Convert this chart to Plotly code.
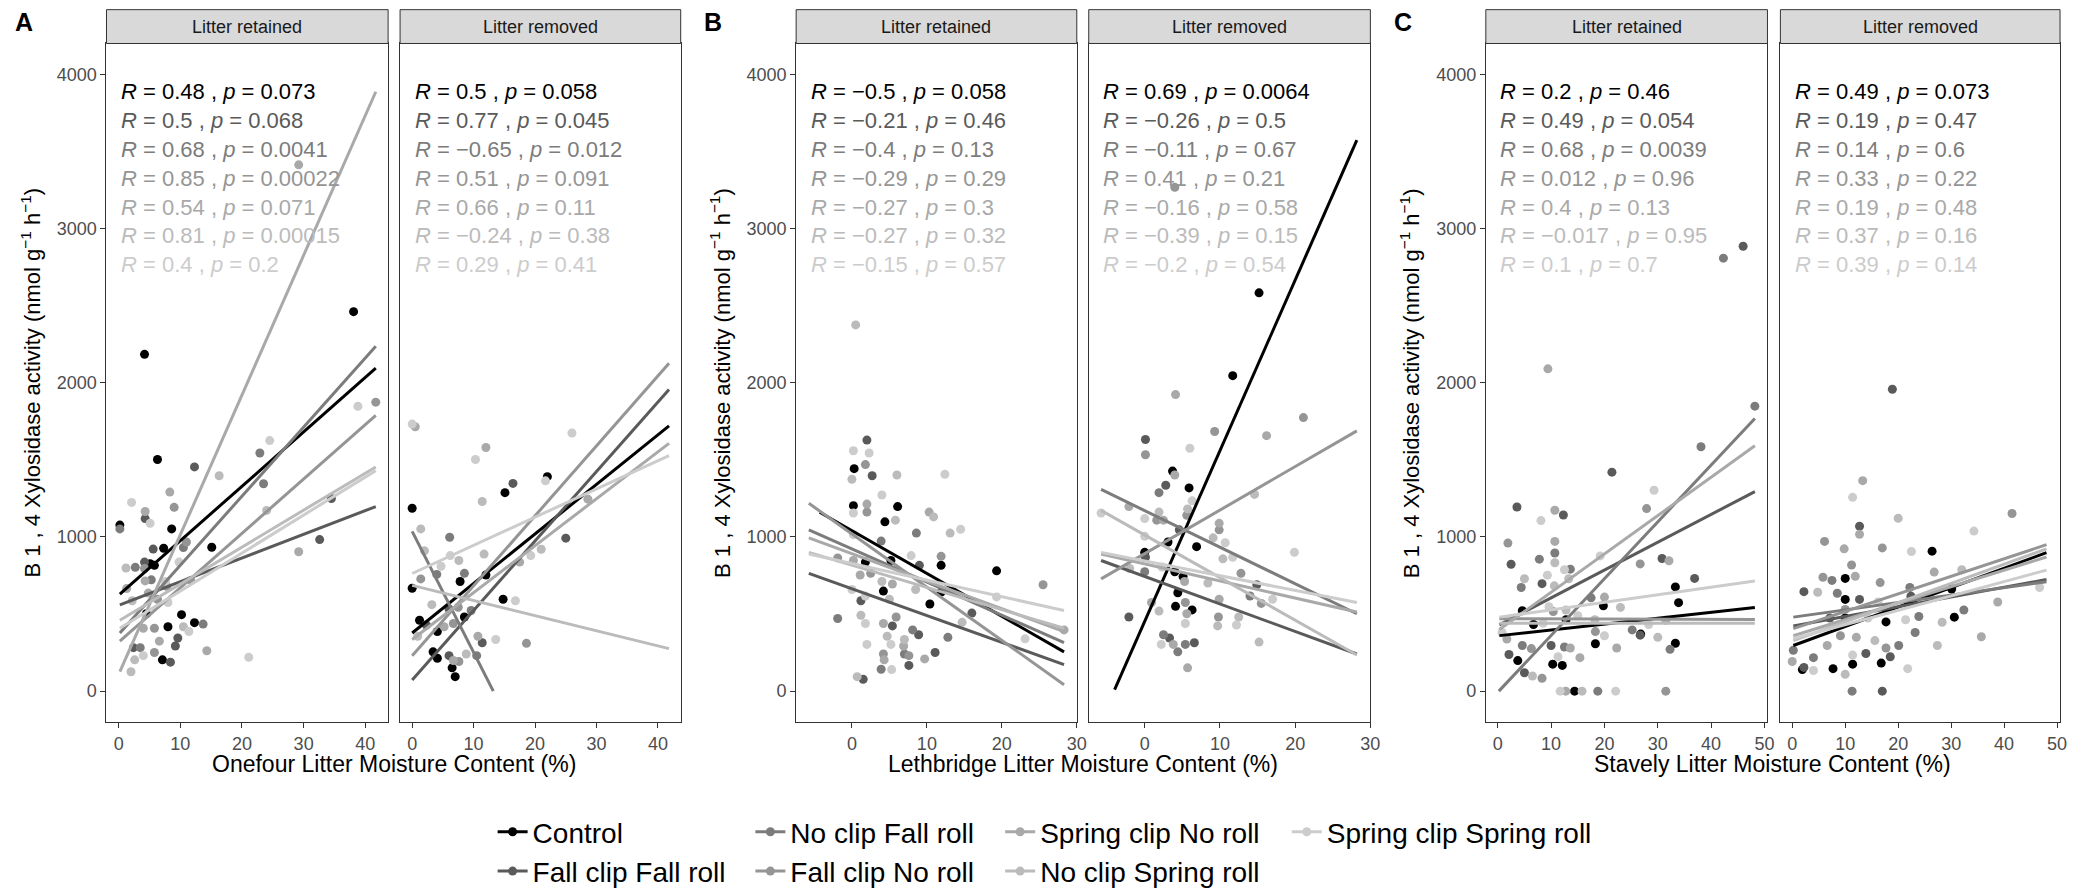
import plotly.graph_objects as go

W, H = 2078, 896
FONT = "Liberation Sans, Arial, Helvetica, sans-serif"

GROUPS = ["Control", "Fall clip Fall roll", "No clip Fall roll", "Fall clip No roll",
          "Spring clip No roll", "No clip Spring roll", "Spring clip Spring roll"]
GREYS = ["#000000", "#5A5A5A", "#7C7C7C", "#959595", "#A9A9A9", "#BBBBBB", "#CCCCCC"]

SITE_TITLES = ["Onefour Litter Moisture Content (%)",
               "Lethbridge Litter Moisture Content (%)",
               "Stavely Litter Moisture Content (%)"]
SITE_LETTERS = ["A", "B", "C"]
STRIPS = ["Litter retained", "Litter removed"]
SITE_XTICKS = [[0, 10, 20, 30, 40], [0, 10, 20, 30], [0, 10, 20, 30, 40, 50]]
Y_TICKS = [0, 1000, 2000, 3000, 4000]

# points: (treatment index, litter moisture %, xylosidase activity)
A_RET_PTS = [
    (0, 4.2, 2184), (0, 38.1, 2461), (4, 29.2, 3413), (3, 41.7, 1874), (6, 38.8, 1847),
    (0, 6.3, 1502), (2, 22.9, 1544), (6, 24.5, 1625), (1, 12.3, 1454), (5, 16.3, 1397),
    (2, 23.5, 1345), (4, 8.3, 1291), (6, 2.1, 1224), (1, 34.5, 1249), (3, 9.0, 1192),
    (4, 4.3, 1165), (1, 4.3, 1119), (5, 24.0, 1172), (0, 0.2, 1077), (2, 0.2, 1052),
    (6, 5.1, 1088), (0, 8.6, 1052), (1, 32.6, 983), (4, 29.2, 904), (1, 5.6, 921),
    (0, 7.3, 927), (0, 15.1, 933), (2, 10.5, 931), (3, 11.0, 967), (6, 9.8, 837),
    (5, 1.2, 799), (2, 2.7, 803), (1, 4.2, 837), (0, 5.1, 826), (0, 5.8, 816),
    (3, 4.2, 795), (2, 5.3, 722), (4, 4.3, 715), (6, 7.6, 711), (3, 11.7, 718),
    (4, 1.3, 665), (3, 7.8, 680), (5, 2.2, 586), (4, 4.8, 636), (3, 6.3, 596),
    (6, 8.0, 575), (0, 4.5, 502), (0, 10.2, 496), (0, 12.3, 444), (2, 13.7, 435),
    (0, 8.0, 418), (4, 4.0, 408), (3, 5.8, 408), (5, 10.5, 418), (6, 11.4, 387),
    (1, 9.6, 345), (1, 9.2, 293), (4, 6.6, 324), (1, 2.4, 282), (2, 3.5, 282),
    (6, 4.0, 230), (5, 2.6, 203), (3, 5.8, 251), (0, 7.1, 203), (1, 8.4, 188),
    (4, 14.3, 262), (6, 21.1, 220), (5, 2.0, 126),
]
A_REM_PTS = [
    (6, 0.0, 1732), (4, 0.5, 1715), (6, 10.3, 1502), (4, 12.0, 1580), (0, 22.0, 1391),
    (6, 21.7, 1364), (1, 16.4, 1347), (0, 15.1, 1287), (5, 11.4, 1230), (6, 26.0, 1674),
    (4, 28.6, 1245), (0, 0.0, 1186), (5, 1.4, 1052), (2, 6.1, 998), (1, 25.0, 992),
    (5, 2.0, 910), (6, 6.2, 879), (5, 11.7, 889), (6, 4.7, 810), (5, 7.6, 847),
    (3, 1.4, 728), (2, 4.0, 757), (2, 8.5, 764), (0, 7.8, 711), (0, 12.0, 753),
    (5, 21.0, 920), (6, 19.3, 879), (4, 17.5, 837), (0, 0.0, 667), (0, 14.8, 596),
    (6, 16.8, 586), (5, 3.2, 561), (1, 6.0, 533), (3, 7.5, 544), (2, 9.6, 523),
    (0, 8.5, 481), (0, 1.2, 460), (1, 2.3, 429), (0, 4.1, 387), (4, 5.2, 418),
    (3, 6.7, 439), (4, 10.7, 356), (1, 11.4, 314), (6, 13.6, 335), (3, 18.6, 310),
    (0, 3.4, 255), (0, 4.1, 213), (1, 6.0, 230), (4, 6.7, 199), (3, 7.6, 192),
    (0, 6.5, 151), (0, 7.0, 94), (5, 8.8, 241), (2, 10.5, 230), (5, 0.9, 356),
]
B_RET_PTS = [
    (5, 0.5, 2375), (1, 2.0, 1628), (6, 0.2, 1559), (6, 2.3, 1544), (3, 1.8, 1469),
    (0, 0.3, 1443), (1, 2.7, 1397), (5, 6.0, 1402), (6, 12.4, 1406), (5, 0.0, 1374),
    (6, 4.0, 1272), (0, 0.2, 1203), (0, 6.1, 1197), (4, 2.0, 1213), (3, 2.0, 1161),
    (6, 0.2, 1155), (4, 10.3, 1161), (5, 10.9, 1130), (5, 5.8, 1109), (0, 4.4, 1098),
    (6, 14.5, 1050), (5, 13.1, 1025), (2, 8.6, 1025), (6, 0.2, 1015), (2, 3.9, 973),
    (3, -1.9, 864), (4, 0.2, 847), (0, 1.8, 837), (0, 5.2, 847), (6, 7.9, 879),
    (1, 9.0, 816), (0, 11.9, 816), (3, 11.9, 874), (0, 19.3, 780), (4, 1.1, 753),
    (3, 2.5, 764), (5, 4.0, 711), (4, 5.4, 695), (3, 25.5, 690), (6, 0.0, 659),
    (1, 1.2, 586), (6, 1.8, 617), (0, 4.2, 649), (5, 5.0, 596), (5, 8.5, 659),
    (0, 11.9, 642), (0, 10.4, 565), (6, 19.3, 611), (1, 16.0, 506), (2, -1.9, 471),
    (5, 1.2, 492), (6, 1.8, 439), (4, 4.2, 439), (1, 5.4, 423), (3, 5.9, 481),
    (2, 8.1, 397), (1, 8.9, 366), (2, 12.8, 349), (5, 14.7, 446), (6, 2.0, 303),
    (5, 4.7, 356), (6, 5.2, 303), (5, 7.0, 335), (4, 6.9, 293), (3, 4.2, 241),
    (4, 4.3, 203), (2, 7.0, 241), (3, 7.6, 230), (4, 9.7, 209), (1, 11.1, 251),
    (2, 3.9, 142), (6, 5.3, 140), (1, 7.6, 167), (5, 0.7, 94), (1, 1.5, 77),
    (6, 23.1, 339), (4, 28.3, 397),
]
B_REM_PTS = [
    (3, 4.0, 3267), (0, 15.2, 2583), (0, 11.7, 2046), (4, 4.1, 1923), (3, 21.1, 1774),
    (3, 9.3, 1684), (4, 16.2, 1657), (1, 0.1, 1632), (3, 0.1, 1533), (6, 6.0, 1575),
    (0, 3.7, 1427), (4, 4.0, 1402), (1, 2.8, 1335), (2, 1.9, 1287), (0, 5.9, 1318),
    (6, 6.3, 1234), (5, 14.6, 1276), (4, -2.1, 1197), (6, -5.8, 1155), (5, 1.9, 1161),
    (6, 0.0, 1119), (3, 1.6, 1109), (4, 2.5, 1109), (5, 5.7, 1182), (3, 5.6, 1140),
    (4, 9.9, 1088), (3, 9.9, 1046), (1, 4.6, 1046), (6, 0.0, 1004), (0, 3.1, 967),
    (0, 6.9, 937), (5, 9.1, 994), (6, 10.7, 962), (0, 0.0, 900), (1, 0.1, 868),
    (5, 10.4, 858), (6, 11.7, 868), (6, 19.9, 900), (5, -2.0, 795), (2, 0.0, 774),
    (6, 2.3, 805), (0, 4.0, 774), (0, 5.1, 743), (4, 5.3, 711), (5, 8.4, 701),
    (3, 12.8, 764), (1, 14.9, 690), (0, 4.4, 638), (4, 9.9, 596), (2, 14.0, 617),
    (3, 15.5, 569), (6, 17.0, 596), (4, 0.9, 575), (0, 4.1, 550), (0, 6.3, 527),
    (3, 5.4, 575), (5, 1.9, 519), (1, -2.1, 481), (4, 5.6, 502), (6, 5.4, 439),
    (3, 9.8, 481), (5, 12.5, 481), (6, 12.2, 429), (5, 9.7, 423), (2, 2.5, 366),
    (1, 3.3, 345), (6, 2.2, 303), (4, 3.8, 303), (2, 5.4, 303), (1, 6.6, 314),
    (2, 4.4, 255), (5, 15.2, 318), (4, 5.7, 151),
]
C_RET_PTS = [
    (4, 9.4, 2090), (2, 42.3, 2808), (1, 46.0, 2885), (2, 48.2, 1848), (2, 38.1, 1585),
    (1, 21.4, 1420), (6, 29.3, 1303), (1, 3.6, 1194), (3, 27.9, 1184), (4, 10.7, 1173),
    (1, 12.3, 1142), (6, 8.1, 1106), (3, 1.9, 960), (4, 10.7, 971), (2, 10.7, 896),
    (6, 19.2, 877), (1, 2.5, 823), (2, 7.8, 856), (1, 30.8, 860), (4, 32.1, 846),
    (3, 26.7, 825), (5, 10.7, 833), (6, 12.5, 787), (2, 13.6, 791), (5, 5.0, 729),
    (6, 9.3, 752), (5, 13.3, 729), (1, 36.9, 731), (2, 4.4, 672), (1, 8.3, 697),
    (5, 10.6, 683), (0, 33.3, 676), (0, 33.9, 574), (2, 17.5, 605), (4, 20.0, 610),
    (0, 19.8, 553), (5, 23.0, 543), (0, 4.6, 522), (6, 9.6, 547), (3, 10.4, 516),
    (5, 12.8, 526), (6, 15.0, 489), (0, 12.8, 463), (0, 6.7, 432), (6, 8.5, 440),
    (5, 18.2, 463), (4, 31.5, 459), (6, 28.3, 432), (2, 25.2, 397), (1, 26.7, 363),
    (0, 26.8, 370), (5, 30.0, 349), (3, 18.3, 386), (6, 20.0, 359), (2, 4.6, 296),
    (3, 6.3, 276), (1, 10.0, 296), (2, 12.5, 286), (4, 13.6, 280), (0, 18.3, 307),
    (4, 22.3, 280), (0, 33.3, 311), (2, 32.3, 271), (1, 2.1, 238), (0, 3.75, 198),
    (6, 11.3, 223), (4, 15.4, 217), (0, 10.3, 175), (0, 12.1, 167), (1, 5.0, 119),
    (5, 6.5, 98), (3, 8.3, 84), (6, 11.7, 0), (4, 12.75, 0), (0, 14.4, 0),
    (5, 15.8, 0), (2, 18.75, 0), (6, 22.1, 0), (3, 31.5, 0), (4, 1.7, 338),
    (6, 0.8, 380),
]
C_REM_PTS = [
    (1, 18.9, 1958), (4, 13.3, 1365), (3, 41.5, 1152), (6, 11.4, 1257), (5, 20.0, 1121),
    (1, 12.7, 1069), (4, 12.7, 1017), (6, 34.3, 1038), (3, 6.1, 971), (4, 9.8, 923),
    (3, 17.0, 929), (6, 22.5, 906), (0, 26.4, 908), (3, 11.2, 818), (4, 26.8, 772),
    (5, 32.0, 787), (3, 5.8, 739), (2, 7.5, 718), (0, 10.0, 731), (4, 11.9, 745),
    (5, 4.8, 641), (3, 16.6, 704), (2, 22.2, 672), (1, 22.4, 616), (1, 2.2, 645),
    (2, 8.5, 635), (0, 10.0, 595), (1, 12.7, 595), (6, 16.2, 578), (0, 30.1, 662),
    (4, 38.8, 578), (3, 10.0, 530), (1, 7.1, 474), (0, 10.0, 474), (6, 14.3, 474),
    (0, 17.7, 449), (6, 21.4, 463), (2, 23.9, 484), (5, 28.3, 447), (2, 32.4, 526),
    (0, 30.6, 480), (2, 0.2, 265), (4, 0.0, 192), (1, 2.2, 154), (0, 1.9, 140),
    (6, 4.0, 134), (2, 4.0, 217), (4, 6.6, 296), (0, 7.7, 146), (5, 10.0, 109),
    (0, 11.4, 175), (6, 11.4, 234), (1, 13.9, 244), (0, 16.8, 182), (3, 17.7, 280),
    (1, 18.5, 223), (2, 20.1, 296), (6, 21.8, 146), (2, 23.2, 380), (5, 27.4, 296),
    (4, 35.7, 353), (6, 46.7, 672), (2, 11.3, 0), (1, 17.0, 0), (3, 9.1, 359),
    (4, 12.1, 349), (5, 15.6, 328),
]

# fitted regression lines: (treatment index, x start, y start, x end, y end)
A_RET_FITS = [(0, 0.2, 630, 41.7, 2094), (1, 0.2, 560, 41.7, 1197), (2, 0.2, 377, 41.7, 2237),
              (3, 0.2, 324, 41.7, 1789), (4, 0.2, 126, 41.7, 3887), (5, 0.2, 460, 41.7, 1454),
              (6, 0.2, 408, 41.7, 1430)]
A_REM_FITS = [(0, 0.0, 377, 41.8, 1720), (1, 0.0, 73, 41.8, 1956), (2, 0.0, 1036, 13.2, 0),
              (3, 0.0, 230, 41.8, 2126), (4, 0.0, 335, 41.8, 1607), (5, 0.0, 686, 41.8, 276),
              (6, 0.0, 763, 41.8, 1527)]
B_RET_FITS = [(0, -4.3, 1160, 28.3, 255), (1, -5.75, 764, 28.3, 172), (2, -5.75, 1046, 28.3, 314),
              (3, -5.75, 1218, 28.3, 42), (4, -5.75, 994, 28.3, 387), (5, -5.75, 900, 28.3, 408),
              (6, -5.75, 889, 28.3, 523)]
B_REM_FITS = [(0, -4.0, 10, 28.2, 3573), (1, -5.8, 847, 28.2, 241), (2, -5.8, 1308, 28.2, 502),
              (3, -5.8, 728, 28.2, 1688), (4, -5.8, 889, 28.2, 513), (5, -5.8, 1172, 28.2, 234),
              (6, -5.8, 900, 28.2, 575)]
C_RET_FITS = [(0, 0.3, 360, 48.2, 543), (1, 0.3, 430, 48.2, 1294), (2, 0.2, 0, 48.2, 1768),
              (3, 0.3, 470, 48.2, 465), (4, 0.3, 400, 48.2, 1591), (5, 0.3, 440, 48.2, 440),
              (6, 0.3, 480, 48.2, 714)]
C_REM_FITS = [(0, 0.2, 296, 48.0, 898), (1, 0.2, 422, 48.0, 724), (2, 0.2, 480, 48.0, 710),
              (3, 0.2, 405, 48.0, 950), (4, 0.2, 359, 48.0, 870), (5, 0.2, 328, 48.0, 923),
              (6, 0.2, 340, 48.0, 785)]

# correlation statistics per treatment
A_RET_R = ["0.48", "0.5", "0.68", "0.85", "0.54", "0.81", "0.4"]
A_RET_P = ["0.073", "0.068", "0.0041", "0.00022", "0.071", "0.00015", "0.2"]
A_REM_R = ["0.5", "0.77", "−0.65", "0.51", "0.66", "−0.24", "0.29"]
A_REM_P = ["0.058", "0.045", "0.012", "0.091", "0.11", "0.38", "0.41"]
B_RET_R = ["−0.5", "−0.21", "−0.4", "−0.29", "−0.27", "−0.27", "−0.15"]
B_RET_P = ["0.058", "0.46", "0.13", "0.29", "0.3", "0.32", "0.57"]
B_REM_R = ["0.69", "−0.26", "−0.11", "0.41", "−0.16", "−0.39", "−0.2"]
B_REM_P = ["0.0064", "0.5", "0.67", "0.21", "0.58", "0.15", "0.54"]
C_RET_R = ["0.2", "0.49", "0.68", "0.012", "0.4", "−0.017", "0.1"]
C_RET_P = ["0.46", "0.054", "0.0039", "0.96", "0.13", "0.95", "0.7"]
C_REM_R = ["0.49", "0.19", "0.14", "0.33", "0.19", "0.37", "0.39"]
C_REM_P = ["0.073", "0.47", "0.6", "0.22", "0.48", "0.16", "0.14"]

PANELS = [
    (0, 0, A_RET_PTS, A_RET_FITS, A_RET_R, A_RET_P),
    (0, 1, A_REM_PTS, A_REM_FITS, A_REM_R, A_REM_P),
    (1, 0, B_RET_PTS, B_RET_FITS, B_RET_R, B_RET_P),
    (1, 1, B_REM_PTS, B_REM_FITS, B_REM_R, B_REM_P),
    (2, 0, C_RET_PTS, C_RET_FITS, C_RET_R, C_RET_P),
    (2, 1, C_REM_PTS, C_REM_FITS, C_REM_R, C_REM_P),
]

# ---- layout geometry (pixels) ----
SITE_XRANGE = [[-1.97, 43.7], [-7.44, 30.0], [-2.24, 50.56]]
Y_RANGE = [-200, 4200]
PANEL_PX = [(107, 390), (402, 684), (800, 1082), (1094, 1377), (1493, 1776), (1789, 2070)]
PANEL_TOP, PANEL_BOT = 45, 747
STRIP_TOP = 10
GROUP_OFFSET = [0, 692.7, 1385.3]


def px(xp):
    return xp / W


def py(yp):
    return 1 - yp / H


fig = go.Figure()
layout = dict(
    width=W, height=H, margin=dict(l=0, r=0, t=0, b=0),
    paper_bgcolor="white", plot_bgcolor="white",
    font=dict(family=FONT, color="#000000"),
    showlegend=True,
)
shapes, annotations = [], []

for k, (site, side, pts, fits, rvals, pvals) in enumerate(PANELS):
    sfx = "" if k == 0 else str(k + 1)
    xa, ya = "x" + sfx, "y" + sfx
    x0p, x1p = PANEL_PX[k]
    axis_common = dict(showgrid=False, zeroline=False, showline=True, mirror=True,
                       linecolor="#333333", linewidth=1, ticks="outside", ticklen=5,
                       tickcolor="#333333", tickwidth=1,
                       tickfont=dict(family=FONT, size=18, color="#4D4D4D"))
    layout["xaxis" + sfx] = dict(axis_common, domain=[px(x0p), px(x1p)],
                                 range=SITE_XRANGE[site], anchor=ya,
                                 tickvals=SITE_XTICKS[site])
    yax = dict(axis_common, domain=[py(PANEL_BOT), py(PANEL_TOP)], range=Y_RANGE,
               anchor=xa, tickvals=Y_TICKS)
    if side == 1:
        yax.update(showticklabels=False, ticks="")
    layout["yaxis" + sfx] = yax

    # scatter points by treatment
    for g in range(len(GROUPS)):
        gx = [p[1] for p in pts if p[0] == g]
        gy = [p[2] for p in pts if p[0] == g]
        fig.add_trace(go.Scatter(x=gx, y=gy, mode="markers", xaxis=xa, yaxis=ya,
                                 marker=dict(size=9, color=GREYS[g], line=dict(width=0)),
                                 showlegend=False, hoverinfo="skip"))
    # regression lines on top
    for g, fx0, fy0, fx1, fy1 in fits:
        fig.add_trace(go.Scatter(x=[fx0, fx1], y=[fy0, fy1], mode="lines", xaxis=xa, yaxis=ya,
                                 line=dict(color=GREYS[g], width=3),
                                 showlegend=False, hoverinfo="skip"))

    # strip
    shapes.append(dict(type="rect", xref="paper", yref="paper",
                       x0=px(x0p), x1=px(x1p), y0=py(PANEL_TOP), y1=py(STRIP_TOP),
                       fillcolor="#D9D9D9", line=dict(color="#333333", width=1)))
    annotations.append(dict(text=STRIPS[side], xref="paper", yref="paper",
                            x=px((x0p + x1p) / 2), y=py((PANEL_TOP + STRIP_TOP) / 2),
                            showarrow=False, xanchor="center", yanchor="middle",
                            font=dict(family=FONT, size=18, color="#1A1A1A")))

    # correlation labels
    for g in range(len(GROUPS)):
        ypix = 95 + 29.8 * g
        annotations.append(dict(
            text=f"<i>R</i> = {rvals[g]} , <i>p</i> = {pvals[g]}",
            xref=xa + " domain", yref="paper", x=12.5 / (x1p - x0p), y=py(ypix),
            xanchor="left", yanchor="middle", showarrow=False,
            font=dict(family=FONT, size=22, color=GREYS[g])))

for s in range(3):
    off = GROUP_OFFSET[s]
    left, right = PANEL_PX[2 * s][0], PANEL_PX[2 * s + 1][1]
    annotations.append(dict(text=SITE_TITLES[s], xref="paper", yref="paper",
                            x=px((left + right) / 2), y=py(790), showarrow=False,
                            xanchor="center", yanchor="middle",
                            font=dict(family=FONT, size=23, color="#000000")))
    annotations.append(dict(text="B 1 , 4 Xylosidase activity (nmol g<sup>−1</sup> h<sup>−1</sup>)",
                            xref="paper", yref="paper", x=px(off + 31),
                            y=py((PANEL_TOP + PANEL_BOT) / 2), textangle=-90,
                            showarrow=False, xanchor="center", yanchor="middle",
                            font=dict(family=FONT, size=22, color="#000000")))
    annotations.append(dict(text="<b>" + SITE_LETTERS[s] + "</b>", xref="paper", yref="paper",
                            x=px(off + 24), y=py(23), showarrow=False,
                            xanchor="center", yanchor="middle",
                            font=dict(family=FONT, size=25, color="#000000")))

# legend: four columns of two entries each
LEGEND_COLS = [[0, 1], [2, 3], [4, 5], [6]]
LEGEND_TEXT_X = [537, 796, 1047, 1335]
legend_names = ["legend", "legend2", "legend3", "legend4"]
for c, members in enumerate(LEGEND_COLS):
    for g in members:
        fig.add_trace(go.Scatter(x=[None], y=[None], mode="lines+markers", name=GROUPS[g],
                                 line=dict(color=GREYS[g], width=3),
                                 marker=dict(size=9, color=GREYS[g]),
                                 legend=legend_names[c], showlegend=True))
    layout[legend_names[c]] = dict(
        x=px(LEGEND_TEXT_X[c] - 42), y=py(835), xanchor="left", yanchor="top",
        orientation="v", bgcolor="rgba(0,0,0,0)", tracegroupgap=0, itemwidth=30,
        font=dict(family=FONT, size=28, color="#000000"))

layout["shapes"] = shapes
layout["annotations"] = annotations
fig.update_layout(**layout)
fig.write_html("out.html")
